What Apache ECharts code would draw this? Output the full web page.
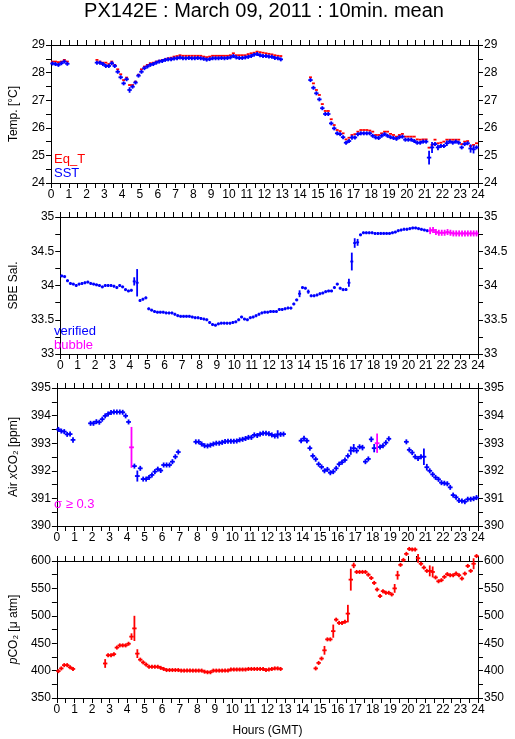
<!DOCTYPE html>
<html><head><meta charset="utf-8">
<script src="https://cdn.jsdelivr.net/npm/echarts@6/dist/echarts.min.js"></script>
<style>html,body{margin:0;padding:0;background:#fff}#c{width:515px;height:739px}</style>
</head><body><div id="c"></div>
<script>
// ---------- DATA (10-minute means; segment start times in minutes after 00:00 GMT) ----------
// Panel 1: temperature [°C]
const tempStarts = [0, 150, 870];
const sst1 = [28.33, 28.31, 28.28, 28.34, 28.40, 28.32];
const sst2 = [28.36, 28.36, 28.31, 28.24, 28.24, 28.34, 28.24, 28.03, 27.83, 27.61, 27.76, 27.37, 27.49, 27.64, 27.89,
  28.03, 28.16, 28.22, 28.28, 28.31, 28.36, 28.40, 28.42, 28.46, 28.48, 28.48, 28.51, 28.52, 28.55, 28.52, 28.52,
  28.53, 28.52, 28.52, 28.53, 28.52, 28.50, 28.47, 28.49, 28.52, 28.52, 28.52, 28.53, 28.52, 28.53, 28.55, 28.60,
  28.55, 28.53, 28.53, 28.55, 28.57, 28.60, 28.65, 28.67, 28.63, 28.60, 28.60, 28.58, 28.57, 28.53, 28.52, 28.48];
const sst3 = [27.73, 27.45, 27.25, 27.03, 26.71, 26.50, 26.50, 26.16, 25.98, 25.80, 25.77, 25.66, 25.46, 25.52, 25.65,
  25.65, 25.77, 25.80, 25.80, 25.80, 25.80, 25.71, 25.65, 25.63, 25.71, 25.77, 25.71, 25.66, 25.63, 25.60, 25.66,
  25.68, 25.57, 25.57, 25.57, 25.52, 25.46, 25.46, 25.50, 25.50, 24.92, 25.29, 25.41, 25.29, 25.34, 25.34, 25.44,
  25.50, 25.46, 25.50, 25.46, 25.29, 25.41, 25.44, 25.25, 25.22, 25.29];
const sstErr = [[4.25, 0.06], [4.42, 0.1], [16.92, 0.08], [21.25, 0.25], [21.42, 0.2], [21.75, 0.1], [22.25, 0.1], [23.58, 0.15], [23.75, 0.15]];
const eqT1 = [28.40, 28.40, 28.38, 28.40, 28.46, 28.40];
const eqT2 = [28.46, 28.40, 28.36, 28.36, 28.31, 28.40, 28.28, 28.12, 27.94, 27.73, 27.82, 27.55, 27.55, 27.67, 27.92,
  28.12, 28.22, 28.28, 28.34, 28.36, 28.40, 28.43, 28.46, 28.48, 28.52, 28.54, 28.58, 28.60, 28.63, 28.61, 28.61,
  28.61, 28.61, 28.61, 28.61, 28.61, 28.58, 28.56, 28.58, 28.61, 28.61, 28.61, 28.61, 28.61, 28.61, 28.63, 28.70,
  28.63, 28.63, 28.63, 28.63, 28.67, 28.70, 28.72, 28.76, 28.74, 28.72, 28.70, 28.68, 28.66, 28.63, 28.61, 28.60];
const eqT3 = [27.83, 27.61, 27.37, 27.19, 26.86, 26.61, 26.61, 26.31, 26.10, 25.92, 25.88, 25.80, 25.58, 25.64, 25.74,
  25.77, 25.86, 25.92, 25.92, 25.92, 25.90, 25.86, 25.74, 25.74, 25.80, 25.86, 25.86, 25.78, 25.74, 25.68, 25.74,
  25.78, 25.68, 25.68, 25.68, 25.68, 25.58, 25.57, 25.58, 25.58, 25.28, 25.38, 25.57, 25.44, 25.46, 25.50, 25.57,
  25.57, 25.57, 25.57, 25.57, 25.41, 25.50, 25.52, 25.34, 25.38, 25.44];
const eqTErr = [];

// Panel 2: SBE salinity
const salStarts = [0];
const salVerified = [34.14, 34.13, 34.07, 34.03, 34.02, 34.00, 34.02, 34.03, 34.04, 34.05, 34.03, 34.02,
  34.01, 34.00, 33.98, 34.00, 34.00, 34.00, 33.99, 33.97, 34.00, 33.98, 33.94, 33.92,
  33.93, 34.06, 34.04, 33.78, 33.80, 33.82, 33.66, 33.64, 33.62, 33.61, 33.61, 33.61,
  33.60, 33.60, 33.60, 33.58, 33.56, 33.55, 33.55, 33.55, 33.55, 33.54, 33.53, 33.53,
  33.52, 33.51, 33.50, 33.46, 33.43, 33.42, 33.44, 33.45, 33.45, 33.45, 33.45, 33.46,
  33.47, 33.50, 33.54, 33.51, 33.50, 33.53, 33.54, 33.56, 33.58, 33.60, 33.61, 33.61,
  33.62, 33.62, 33.62, 33.65, 33.65, 33.66, 33.67, 33.67, 33.73, 33.79, 33.88, 33.97,
  33.96, 33.91, 33.85, 33.85, 33.86, 33.88, 33.89, 33.91, 33.92, 33.92, 33.97, 34.02,
  33.96, 33.94, 33.94, 34.04, 34.35, 34.62, 34.63, 34.74, 34.77, 34.77, 34.77, 34.77,
  34.76, 34.76, 34.76, 34.76, 34.76, 34.76, 34.77, 34.78, 34.80, 34.81, 34.82, 34.82,
  34.83, 34.84, 34.84, 34.83, 34.82, 34.81, 34.80];
const salVerifiedErr = [[4.25, 0.06], [4.42, 0.2], [13.75, 0.05], [14.25, 0.03], [16.58, 0.06], [16.75, 0.13], [16.92, 0.07], [17.08, 0.05]];
const salBubbleStarts = [1270];
const salBubble = [34.80, 34.81, 34.78, 34.77, 34.77, 34.77, 34.78, 34.77, 34.76, 34.76, 34.76, 34.76, 34.76, 34.76, 34.76, 34.76, 34.76];
const salBubbleErr = [[21.25, 0.05]];

// Panel 3: Air xCO2 [ppm]
const xco2Starts = [0, 110, 470, 830, 1190];
const xco2a = [393.50, 393.44, 393.42, 393.32, 393.33, 393.12];
const xco2b = [393.72, 393.72, 393.78, 393.76, 393.87, 393.99, 394.06, 394.11, 394.13, 394.13, 394.13, 394.12, 393.99,
  393.77, null, 392.17, 391.81, 392.09, 391.70, 391.70, 391.76, 391.85, 391.97, 392.06, 392.01, 392.21, 392.21,
  392.21, 392.33, 392.51, 392.68];
const xco2c = [393.05, 393.05, 392.97, 392.91, 392.90, 392.93, 392.97, 393.00, 393.00, 393.03, 393.06, 393.07, 393.07,
  393.07, 393.08, 393.12, 393.14, 393.17, 393.21, 393.21, 393.30, 393.28, 393.33, 393.36, 393.36, 393.34, 393.30,
  393.26, 393.32, 393.32, 393.33];
const xco2d = [393.09, 393.17, 393.09, 392.82, 392.54, 392.42, 392.24, 392.14, 392.00, 392.05, 391.93, 391.97, 392.09,
  392.24, 392.31, 392.39, 392.54, 392.73, 392.82, 392.73, 392.87, 392.84, 392.33, 392.43, 393.14, 392.82, null,
  392.86, 392.91, 393.02, 393.16];
const xco2e = [393.05, 392.76, 392.66, 392.51, 392.45, 392.51, 392.51, 392.13, 392.00, 391.87, 391.76, 391.69, 391.57,
  391.55, 391.53, 391.40, 391.12, 391.04, 390.92, 390.91, 390.88, 390.97, 390.97, 390.99, 391.03];
const xco2Err = [[0.92, 0.1], [4.58, 0.2], [12.58, 0.15], [14.08, 0.1], [16.75, 0.15], [16.92, 0.15], [17.08, 0.1],
  [17.42, 0.1], [17.92, 0.1], [18.08, 0.15], [20.92, 0.3], [21.08, 0.12]];
const xco2SigmaHours = [4.25, 18.25];
const xco2SigmaValues = [392.85, 393.00];
const xco2SigmaErr = [0.74, 0.35];

// Panel 4: pCO2 [uatm]
const pco2Starts = [0, 160, 880];
const pco2a = [399, 404, 410, 410, 406, 403];
const pco2b = [413, 428, 428, 430, 442, 446, 446, 446, 449, 462, 477, 431, 420, 415, 411, 407, 407, 407, 407, 405,
  403, 401, 401, 401, 401, 401, 400, 400, 400, 400, 400, 400, 400, 400, 398, 397, 397, 400, 400, 400, 400, 400,
  400, 402, 402, 402, 402, 402, 402, 403, 403, 403, 403, 403, 403, 401, 402, 403, 404, 404, 403];
const pco2c = [404, 414, 422, 437, 457, 457, 472, 493, 487, 487, 489, 504, 566, 592, 580, 580, 580, 580, 575, 569,
  560, 548, 536, 545, 542, 542, 539, 550, 574, 593, 602, 613, 622, 621, 621, 605, 595, 588, 582, 582, 580, 570,
  563, 565, 571, 576, 574, 574, 577, 574, 568, 577, 591, 582, 595, 609];
const pco2Err = [[2.75, 8], [4.25, 6], [4.42, 23], [4.58, 8], [15.25, 8], [15.75, 12], [16.58, 16], [16.75, 20],
  [16.92, 5], [19.25, 8], [19.42, 8], [20.58, 8], [21.25, 10], [21.42, 10], [23.75, 10]];

// Axis ticks
const hourTicks = { min: 0, max: 24, step: 1 };
const tempTicks = { min: 24, max: 29, step: 1 };
const salTicks = { min: 33, max: 35, step: 0.5 };
const xco2Ticks = { min: 390, max: 395, step: 1 };
const pco2Ticks = { min: 350, max: 600, step: 50 };

// ---------- BUILD ----------
function build(starts, segs, errs) {
  const em = new Map(errs.map(([h, e]) => [h.toFixed(2), e]));
  const out = [];
  segs.forEach((vals, s) => {
    vals.forEach((v, i) => {
      if (v == null) return;
      const h = (starts[s] + 10 * i + 5) / 60;
      out.push([h, v, em.get(h.toFixed(2)) || 0]);
    });
  });
  return out;
}

const FONT = '"Liberation Sans", Arial, Helvetica, sans-serif';
const LW = 1.8;
const RED = '#ff0000', BLUE = '#0000ff', MAG = '#ff00ff';

function crossRender(halfPx, halfWPx) {
  return function (params, api) {
    const h = api.value(0), v = api.value(1), e = api.value(2);
    const c = api.coord([h, v]);
    const l = api.coord([h - 1 / 12, v]);
    const r = api.coord([h + 1 / 12, v]);
    const xl = Math.min(l[0], c[0] - halfWPx), xr = Math.max(r[0], c[0] + halfWPx);
    let y1 = c[1] - halfPx, y2 = c[1] + halfPx;
    if (e > 0) {
      const t = api.coord([h, v + e])[1], b = api.coord([h, v - e])[1];
      y1 = Math.min(y1, t); y2 = Math.max(y2, b);
    }
    const style = { stroke: api.visual('color'), lineWidth: LW, fill: null };
    const children = [{ type: 'line', shape: { x1: xl, y1: c[1], x2: xr, y2: c[1] }, style }];
    if (y2 - y1 > 0.5) children.push({ type: 'line', shape: { x1: c[0], y1: y1, x2: c[0], y2: y2 }, style });
    return { type: 'group', children };
  };
}

function crossSeries(gi, data, color, halfPx, halfWPx) {
  return {
    type: 'custom', xAxisIndex: gi * 2, yAxisIndex: gi * 2, data, clip: false, silent: true,
    itemStyle: { color }, encode: { x: 0, y: 1 }, renderItem: crossRender(halfPx, halfWPx), animation: false, z: 3
  };
}

const grids = [
  { left: 51, top: 45, width: 427, height: 138 },
  { left: 51, top: 217, width: 427, height: 137 },
  { left: 51, top: 388, width: 427, height: 138 },
  { left: 51, top: 561, width: 427, height: 137 }
];

const axLine = { show: true, onZero: false, lineStyle: { color: '#000', width: 1 } };
const tickStyle = { color: '#000', width: 1 };
const xAxis = [], yAxis = [];
grids.forEach((g, gi) => {
  ['bottom', 'top'].forEach(pos => {
    xAxis.push({
      gridIndex: gi, type: 'value', position: pos, min: hourTicks.min, max: hourTicks.max, interval: hourTicks.step,
      axisLine: axLine, splitLine: { show: false },
      axisTick: { show: true, inside: false, length: 5, lineStyle: tickStyle },
      minorTick: { show: true, splitNumber: 2, length: 5, lineStyle: tickStyle },
      axisLabel: { show: pos === 'bottom', color: '#000', fontSize: 12, fontFamily: FONT, margin: 6 },
      name: (gi === 3 && pos === 'bottom') ? 'Hours (GMT)' : '',
      nameLocation: 'middle', nameGap: 27,
      nameTextStyle: { color: '#000', fontSize: 12, fontFamily: FONT }
    });
  });
});
const yTicks = [tempTicks, salTicks, xco2Ticks, pco2Ticks];
const yNames = [
  'Temp. [°C]',
  'SBE Sal.',
  '{n|Air }{i|x}{n|CO₂ [ppm]}',
  '{i|p}{n|CO₂ [μ atm]}'
];
grids.forEach((g, gi) => {
  const t = yTicks[gi];
  ['left', 'right'].forEach(pos => {
    yAxis.push({
      gridIndex: gi, type: 'value', position: pos, min: t.min, max: t.max, interval: t.step,
      axisLine: axLine, splitLine: { show: false },
      axisTick: { show: true, inside: false, length: 5, lineStyle: tickStyle },
      minorTick: { show: true, splitNumber: 2, length: 5, lineStyle: tickStyle },
      axisLabel: { show: true, color: '#000', fontSize: 12, fontFamily: FONT, margin: 6 },
      name: pos === 'left' ? yNames[gi] : '',
      nameLocation: 'middle', nameGap: 31, nameRotate: 90,
      nameTextStyle: {
        color: '#000', fontSize: 12, fontFamily: FONT,
        rich: { n: { fontSize: 12, fontFamily: FONT, color: '#000' }, i: { fontSize: 12, fontFamily: FONT, fontStyle: 'italic', color: '#000' } }
      }
    });
  });
});

const sigmaData = xco2SigmaHours.map((h, i) => [h, xco2SigmaValues[i], xco2SigmaErr[i]]);

const series = [
  crossSeries(0, build(tempStarts, [eqT1, eqT2, eqT3], eqTErr), RED, 0, 0),
  crossSeries(0, build(tempStarts, [sst1, sst2, sst3], sstErr), BLUE, 2, 2.2),
  crossSeries(1, build(salStarts, [salVerified], salVerifiedErr), BLUE, 1.5, 1.5),
  crossSeries(1, build(salBubbleStarts, [salBubble], salBubbleErr), MAG, 3, 2),
  crossSeries(2, build(xco2Starts, [xco2a, xco2b, xco2c, xco2d, xco2e], xco2Err), BLUE, 2.5, 2.4),
  crossSeries(2, sigmaData, MAG, 2.5, 2.4),
  crossSeries(3, build(pco2Starts, [pco2a, pco2b, pco2c], pco2Err), RED, 2, 2.2)
];

function txt(text, x, y, color, size, align) {
  return { type: 'text', x, y, silent: true, z: 10,
    style: { text, fill: color, font: size + 'px ' + FONT, textAlign: align || 'left', textVerticalAlign: 'middle' } };
}

const chart = echarts.init(document.getElementById('c'), null, { renderer: 'canvas' });
chart.setOption({
  backgroundColor: '#fff',
  animation: false,
  grid: grids,
  xAxis, yAxis, series,
  graphic: [
    txt('PX142E : March 09, 2011 : 10min. mean', 264, 11, '#000', 20, 'center'),
    txt('Eq_T', 54, 159, RED, 13),
    txt('SST', 54, 173, BLUE, 13),
    txt('verified', 54, 331, BLUE, 13),
    txt('bubble', 54, 345, MAG, 13),
    txt('σ ≥ 0.3', 54, 504, MAG, 13)
  ]
});
</script>
</body></html>
